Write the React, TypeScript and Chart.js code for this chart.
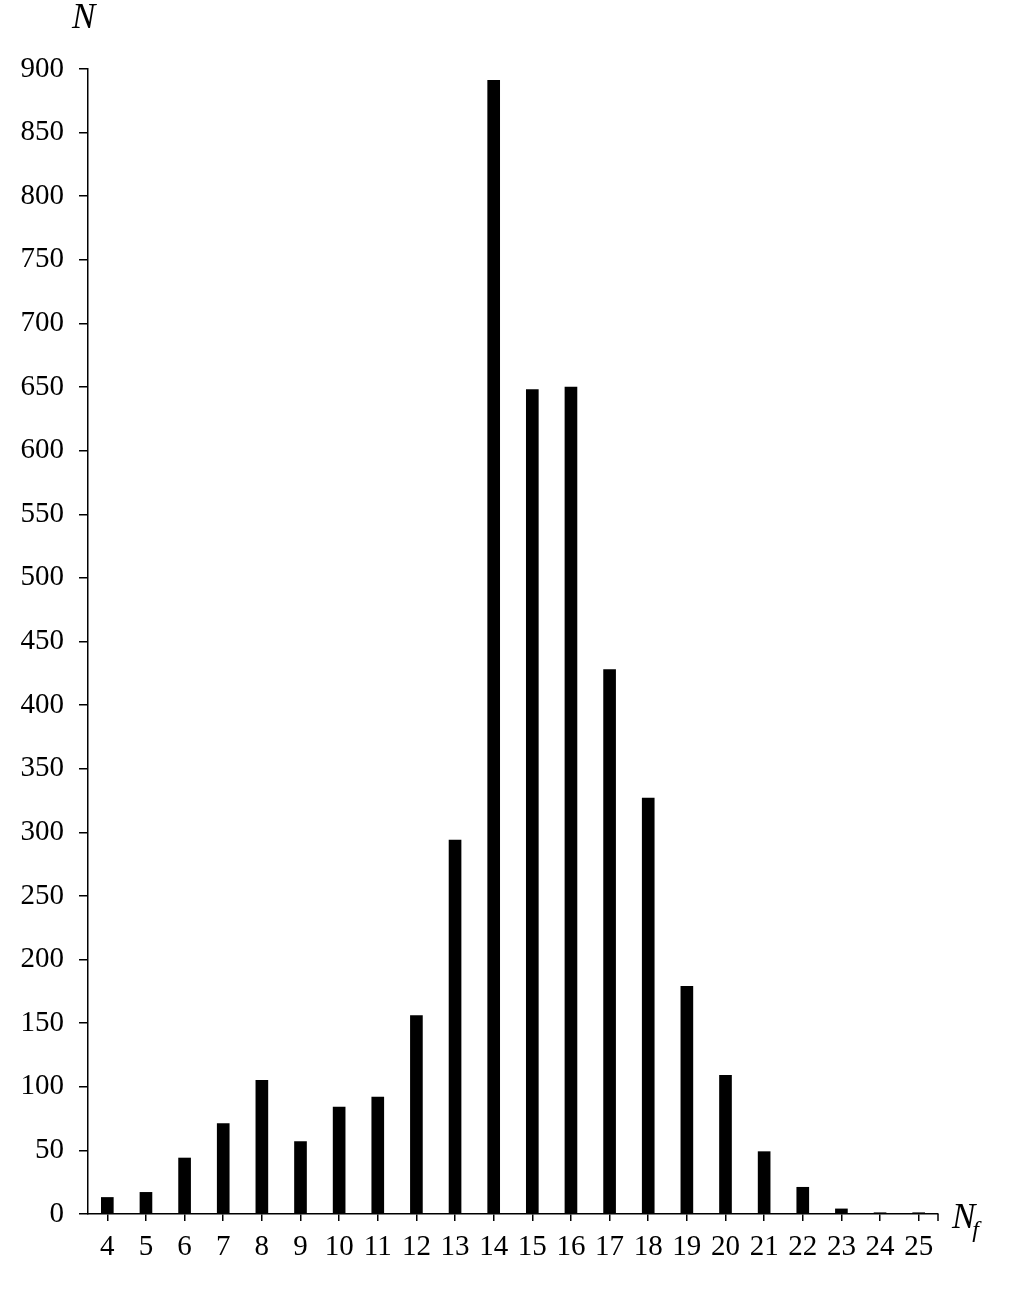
import React, { useEffect, useRef } from "react";
import { Chart, registerables } from "chart.js";

Chart.register(...registerables);

const categories = ["4", "5", "6", "7", "8", "9", "10", "11", "12", "13", "14", "15", "16", "17", "18", "19", "20", "21", "22", "23", "24", "25"];
const counts = [13, 17, 44, 71, 105, 57, 84, 92, 156, 294, 891, 648, 650, 428, 327, 179, 109, 49, 21, 4, 1, 1];
const yMin = 0;
const yMax = 900;
const yStep = 50;
const yTitle = "N";
const xTitleMain = "N";
const xTitleSub = "f";

const FONT = "'Liberation Serif', 'Times New Roman', serif";

const titlesPlugin = {
  id: "axisTitles",
  afterDraw(chart: any) {
    const ctx = chart.ctx;
    const area = chart.chartArea;
    ctx.save();
    ctx.fillStyle = "#000";
    ctx.strokeStyle = "#000";
    ctx.lineWidth = 1.5;
    ctx.beginPath();
    ctx.moveTo(area.right, area.bottom);
    ctx.lineTo(area.right, area.bottom + 7);
    ctx.stroke();
    ctx.font = `italic 35px ${FONT}`;
    ctx.textAlign = "left";
    ctx.textBaseline = "alphabetic";
    ctx.fillText(yTitle, area.left - 16, area.top - 41);
    ctx.fillText(xTitleMain, area.right + 14, area.bottom + 14);
    const w = ctx.measureText(xTitleMain).width;
    ctx.font = `italic 24px ${FONT}`;
    ctx.fillText(xTitleSub, area.right + 14 + w - 3, area.bottom + 23);
    ctx.restore();
  },
};

export default function App() {
  const ref = useRef<HTMLCanvasElement | null>(null);
  useEffect(() => {
    if (!ref.current) return;
    const chart = new Chart(ref.current, {
      type: "bar",
      data: {
        labels: categories,
        datasets: [
          {
            data: counts,
            backgroundColor: "#000",
            borderWidth: 0,
            barThickness: 12,
          },
        ],
      },
      options: {
        responsive: false,
        animation: false,
        layout: { padding: { left: 0, top: 69, right: 72, bottom: 0 } },
        plugins: { legend: { display: false }, tooltip: { enabled: false } },
        scales: {
          x: {
            offset: true,
            grid: { display: true, drawOnChartArea: false, offset: false, tickLength: 7, color: "#000", lineWidth: 1.5 },
            border: { display: true, color: "#000", width: 1.5 },
            ticks: { color: "#000", font: { family: FONT, size: 29 }, padding: 9, maxRotation: 0, autoSkip: false },
            afterFit: (s: any) => { s.height = 1305 - 1214; },
          },
          y: {
            min: yMin,
            max: yMax,
            grid: { display: true, drawOnChartArea: false, tickLength: 9, color: "#000", lineWidth: 1.5 },
            border: { display: true, color: "#000", width: 1.5 },
            ticks: { stepSize: yStep, color: "#000", font: { family: FONT, size: 29 }, padding: 15 },
            afterFit: (s: any) => { s.width = 88; },
          },
        },
      },
      plugins: [titlesPlugin],
    });
    return () => chart.destroy();
  }, []);
  return (
    <div style={{ position: "absolute", left: 0, top: 0, width: 1010, height: 1305, background: "#fff" }}>
      <canvas ref={ref} width={1010} height={1305} />
    </div>
  );
}
